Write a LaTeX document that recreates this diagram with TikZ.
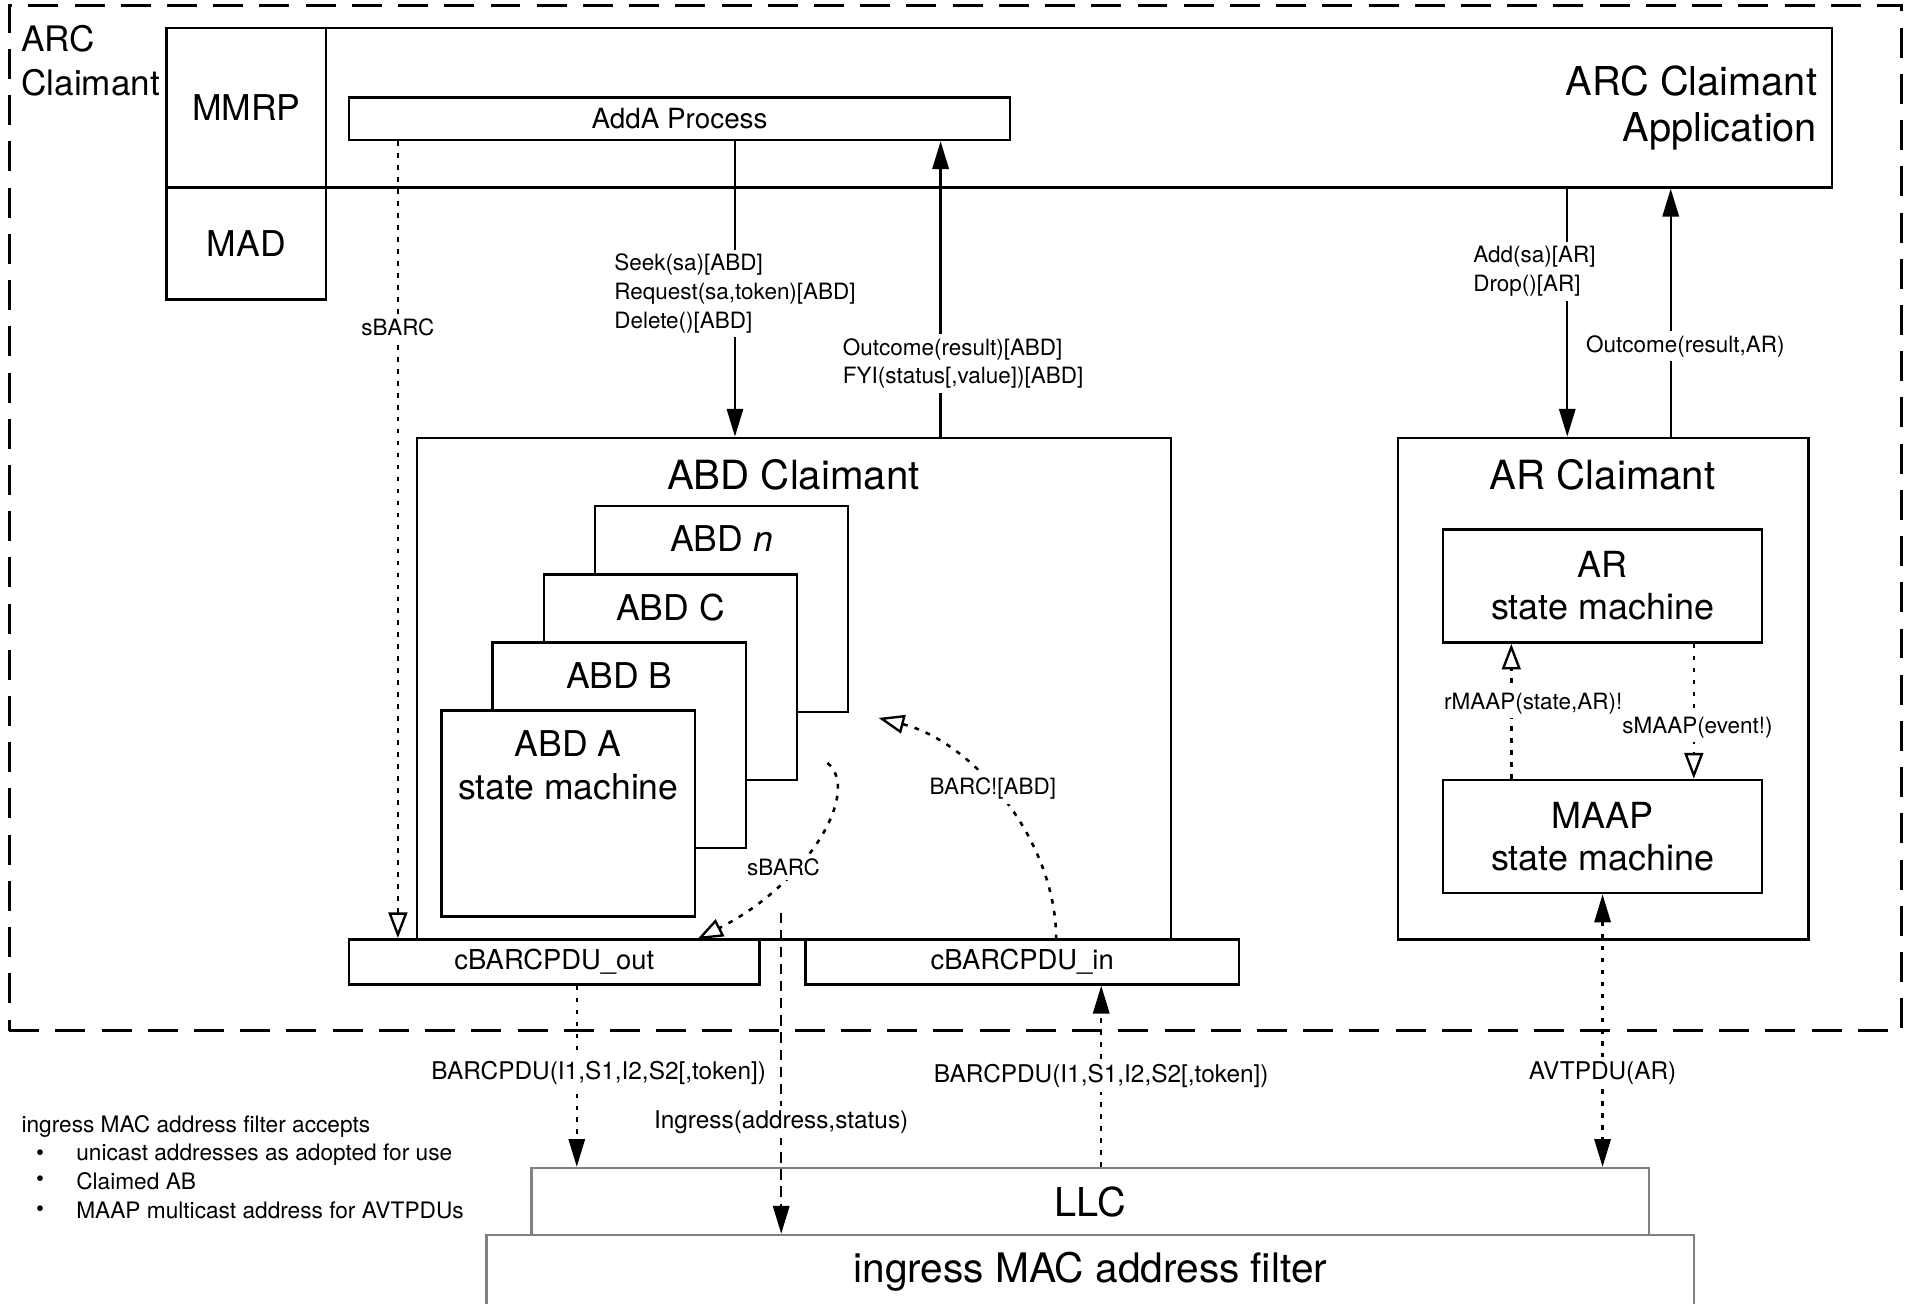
\documentclass[tikz,border=0pt]{standalone}
\usepackage{fontspec}
\setmainfont{TeX Gyre Heros}
\usetikzlibrary{arrows.meta,positioning}

\newcommand{\fsz}[2]{\fontsize{#1}{#2}\selectfont}

\begin{document}
\begin{tikzpicture}[x=0.01cm,y=-0.01cm,
		box/.style={draw=black, line width=0.6pt, fill=white, inner sep=0pt},
		graybox/.style={draw=gray, line width=0.6pt, fill=white, inner sep=0pt},
		lbl/.style={fill=white, inner sep=1pt, align=left, font=\fsz{5.25}{6.7}},
		biglbl/.style={fill=white, inner sep=1pt, font=\fsz{5.7}{7}},
		arr/.style={-{Triangle[length=6.5pt,width=3.8pt]}, line width=0.55pt},
		dblarr/.style={{Triangle[length=6.5pt,width=3.8pt]}-{Triangle[length=6.5pt,width=3.8pt]}, line width=0.55pt},
		dotline/.style={dash pattern=on 1.1pt off 1.7pt, line width=0.6pt},
		openarr/.style={-{Triangle[open,length=6pt,width=4.4pt,line width=0.55pt]}}
	]
	\useasboundingbox (0,0) rectangle (1568,1071);
	\clip (0,0) rectangle (1568,1071);

	% outer ARC Claimant frame
	\node[draw=black, line width=0.7pt, dash pattern=on 7pt off 3.8pt, minimum width=15.54cm, minimum height=8.42cm] (claimant) at (785,426) {};
	\node[anchor=north west, align=left, inner sep=0pt, font=\fsz{8.2}{10.2}] (claimanttxt) at (17,20) {ARC\\Claimant};

	% application layer
	\node[box, minimum width=13.68cm, minimum height=1.31cm] (app) at (821,88.5) {};
	\node[anchor=east, align=right, inner sep=0pt, font=\fsz{9.3}{10.8}] (apptxt) at (1494,89) {ARC Claimant\\Application};
	\node[box, minimum width=1.31cm, minimum height=1.31cm, font=\fsz{8.3}{10}] (mmrp) at (202.5,88.5) {MMRP};
	\node[box, minimum width=1.31cm, minimum height=0.92cm, font=\fsz{8.3}{10}] (mad) at (202.5,200) {MAD};
	\node[box, minimum width=5.43cm, minimum height=0.35cm, font=\fsz{6.5}{8}] (adda) at (558.5,97.5) {AddA Process};

	% ABD claimant
	\node[box, minimum width=6.19cm, minimum height=4.12cm] (abdc) at (652.5,566) {};
	\node[font=\fsz{9.4}{11}, inner sep=0pt] (abdctxt) at (652,390) {ABD Claimant};
	\node[box, minimum width=2.08cm, minimum height=1.69cm] (abdn) at (593,500.5) {};
	\node[font=\fsz{8.3}{10}, inner sep=0pt] (abdntxt) at (593,443) {ABD \textit{n}};
	\node[box, minimum width=2.08cm, minimum height=1.69cm] (abdc3) at (551,556.5) {};
	\node[font=\fsz{8.3}{10}, inner sep=0pt] (abdc3txt) at (551,499) {ABD C};
	\node[box, minimum width=2.08cm, minimum height=1.69cm] (abdb) at (509,612.5) {};
	\node[font=\fsz{8.3}{10}, inner sep=0pt] (abdbtxt) at (509,555) {ABD B};
	\node[box, minimum width=2.08cm, minimum height=1.69cm] (abda) at (467,668.5) {};
	\node[font=\fsz{8.3}{10.2}, align=center, inner sep=0pt] (abdatxt) at (467,629) {ABD A\\state machine};

	\node[box, minimum width=3.37cm, minimum height=0.37cm, font=\fsz{6.4}{8}] (cout) at (455.5,790.5) {cBARCPDU\_out};
	\node[box, minimum width=3.56cm, minimum height=0.37cm, font=\fsz{6.4}{8}] (cin) at (840,790.5) {cBARCPDU\_in};

	% AR claimant
	\node[box, minimum width=3.37cm, minimum height=4.12cm] (arc) at (1317.5,566) {};
	\node[font=\fsz{9.4}{11}, inner sep=0pt] (arctxt) at (1317,390) {AR Claimant};
	\node[box, minimum width=2.62cm, minimum height=0.93cm, align=center, font=\fsz{8.4}{9.7}] (arsm) at (1317,481.5) {AR\\state machine};
	\node[box, minimum width=2.62cm, minimum height=0.93cm, align=center, font=\fsz{8.4}{9.9}] (maap) at (1317,687.5) {MAAP\\state machine};

	% lower layers
	\node[graybox, minimum width=9.18cm, minimum height=0.55cm, font=\fsz{9.3}{11}] (llc) at (896,987.5) {LLC};
	\node[graybox, minimum width=9.92cm, minimum height=0.6cm, font=\fsz{9.5}{11}] (filter) at (896,1045) {ingress MAC address filter};

	% filter note
	\node[anchor=west, inner sep=0pt, font=\fsz{5.3}{6.5}] (note) at (17,926) {ingress MAC address filter accepts};
	\foreach \y/\t [count=\i] in {949/unicast addresses as adopted for use, 971/Claimed AB, 995/MAAP multicast address for AVTPDUs}{
		\node[inner sep=0pt, font=\fsz{5.3}{6.5}] (bul\i) at (33,\y) {\textbullet};
		\node[anchor=west, inner sep=0pt, font=\fsz{5.3}{6.5}] (item\i) at (62,\y) {\t};
	}

	% x positions of connectors
	\coordinate (sbx) at (327,0);
	\coordinate (seekx) at (604,0);
	\coordinate (outx) at (773,0);
	\coordinate (addx) at (1288,0);
	\coordinate (outarx) at (1373,0);
	\coordinate (rmx) at (1242,0);
	\coordinate (smx) at (1392,0);
	\coordinate (poutx) at (474,0);
	\coordinate (pinx) at (905,0);
	\coordinate (ingx) at (642,0);
	\coordinate (sbstart) at (680,627);
	\coordinate (sbend) at (573,772);
	\coordinate (barcstart) at (868,772);
	\coordinate (barctip) at (722,590);
	\coordinate (ingstart) at (642,750);

	% service primitives
	\draw[arr] (adda.south -| seekx) -- node[lbl, pos=0.516] {Seek(sa)[ABD]\\Request(sa,token)[ABD]\\Delete()[ABD]} (abdc.north -| seekx);
	\draw[arr] (abdc.north -| outx) -- node[lbl, pos=0.247, xshift=0.185cm] {Outcome(result)[ABD]\\FYI(status[,value])[ABD]} (adda.south -| outx);
	\draw[arr] (app.south -| addx) -- node[lbl, pos=0.333, xshift=-0.27cm] {Add(sa)[AR]\\Drop()[AR]} (arc.north -| addx);
	\draw[arr] (arc.north -| outarx) -- node[lbl, pos=0.364, xshift=0.12cm] {Outcome(result,AR)} (app.south -| outarx);
	\draw[dotline, openarr] (adda.south -| sbx) -- node[lbl, pos=0.233] {sBARC} (cout.north -| sbx);

	% internal signals
	\draw[dotline, openarr] (sbstart) .. controls (708,650) and (665,725) .. node[lbl, pos=0.63, xshift=-0.1cm] {sBARC} (sbend);
	\draw[dotline, openarr] (barcstart) .. controls (868,690) and (800,610) .. node[lbl, pos=0.55] {BARC![ABD]} (barctip);
	\draw[dotline, openarr] (maap.north -| rmx) -- node[lbl, pos=0.558, xshift=0.18cm] {rMAAP(state,AR)!} (arsm.south -| rmx);
	\draw[dotline, openarr] (arsm.south -| smx) -- node[lbl, pos=0.62, xshift=0.03cm] {sMAAP(event!)} (maap.north -| smx);

	% frames to and from the LLC
	\draw[dotline, arr] (cout.south -| poutx) -- node[biglbl, pos=0.483, xshift=0.18cm] {BARCPDU(I1,S1,I2,S2[,token])} (llc.north -| poutx);
	\draw[dotline, arr] (llc.north -| pinx) -- node[biglbl, pos=0.503] {BARCPDU(I1,S1,I2,S2[,token])} (cin.south -| pinx);
	\draw[dotline, dblarr] (maap.south) -- node[biglbl, pos=0.655] {AVTPDU(AR)} (llc.north -| maap.south);
	\draw[arr, dash pattern=on 2.4pt off 1.6pt] (ingstart) -- node[biglbl, pos=0.653] {Ingress(address,status)} (filter.north -| ingx);
\end{tikzpicture}
\end{document}
